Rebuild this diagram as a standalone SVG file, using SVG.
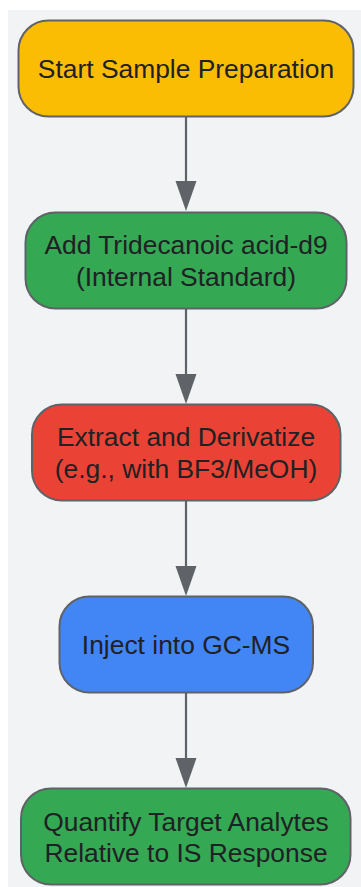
<svg xmlns="http://www.w3.org/2000/svg" width="361" height="887" viewBox="0 0 361 887">
<style>
.n{stroke:#5f6368;stroke-width:2}
.t{font-family:"Liberation Sans",Arial,sans-serif;font-size:26.4px;fill:#202124;text-anchor:middle}
.e{stroke:#5f6368;stroke-width:2.2;fill:none}
.h{fill:#5f6368}
</style>
<rect x="8" y="10" width="360" height="890" fill="#f1f3f4"/>
<g id="edges">
<line class="e" x1="186" y1="117" x2="186" y2="182"/>
<polygon class="h" points="175.5,181 196.5,181 186,211"/>
<line class="e" x1="186" y1="309" x2="186" y2="375"/>
<polygon class="h" points="175.5,374 196.5,374 186,404"/>
<line class="e" x1="186" y1="501" x2="186" y2="567"/>
<polygon class="h" points="175.5,566 196.5,566 186,596"/>
<line class="e" x1="186" y1="693" x2="186" y2="759"/>
<polygon class="h" points="175.5,758 196.5,758 186,788"/>
</g>
<g id="start">
<rect class="n" x="18.5" y="20.5" width="335" height="96" rx="30" fill="#fbbc04"/>
<text class="t" x="186" y="78">Start Sample Preparation</text>
</g>
<g id="add_is">
<rect class="n" x="25.5" y="212.5" width="321" height="96" rx="30" fill="#34a853"/>
<text class="t" x="186" y="254">Add Tridecanoic acid-d9</text>
<text class="t" x="186" y="285.5">(Internal Standard)</text>
</g>
<g id="extract">
<rect class="n" x="32" y="404.5" width="308.5" height="96" rx="30" fill="#ea4335"/>
<text class="t" x="186" y="446">Extract and Derivatize</text>
<text class="t" x="186" y="477.5">(e.g., with BF3/MeOH)</text>
</g>
<g id="inject">
<rect class="n" x="59.5" y="596.5" width="253.5" height="96" rx="30" fill="#4285f4"/>
<text class="t" x="186" y="654">Inject into GC-MS</text>
</g>
<g id="quantify">
<rect class="n" x="21" y="788.5" width="329.5" height="96" rx="30" fill="#34a853"/>
<text class="t" x="186" y="830.5">Quantify Target Analytes</text>
<text class="t" x="186" y="862">Relative to IS Response</text>
</g>
</svg>
